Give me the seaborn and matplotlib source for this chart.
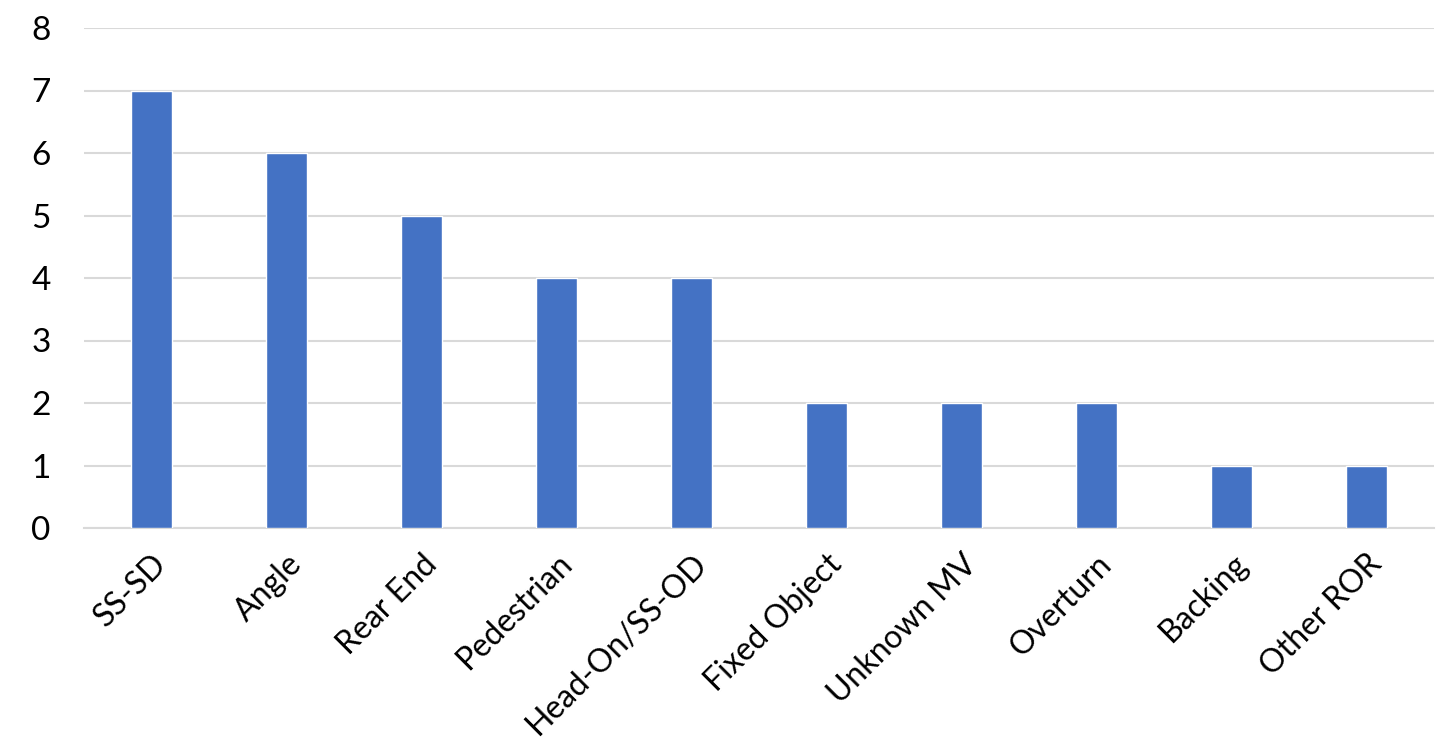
import matplotlib
matplotlib.use("Agg")
import matplotlib.pyplot as plt
import pandas as pd
import seaborn as sns

categories = ["SS-SD", "Angle", "Rear End", "Pedestrian", "Head-On/SS-OD",
              "Fixed Object", "Unknown MV", "Overturn", "Backing", "Other ROR"]
counts = [7, 6, 5, 4, 4, 2, 2, 2, 1, 1]
y_ticks = [0, 1, 2, 3, 4, 5, 6, 7, 8]

sns.set_style("white")
plt.rcParams["font.family"] = ["Lato", "DejaVu Sans"]

df = pd.DataFrame({"category": categories, "count": counts})

fig = plt.figure(figsize=(14.44, 7.49), dpi=100)
ax = fig.add_axes([84 / 1444, 1 - 528 / 749, 1350 / 1444, 500 / 749])
sns.barplot(data=df, x="category", y="count", color="#4472C4",
            width=0.31, saturation=1, ax=ax, zorder=3)

ax.set_ylim(0, 8)
ax.set_yticks(y_ticks)
ax.set_xlim(-0.5, len(categories) - 0.5)
ax.grid(axis="y", color="#D9D9D9", linewidth=1.5, zorder=0)
for s in ["top", "right", "left"]:
    ax.spines[s].set_visible(False)
ax.spines["bottom"].set_color("#D9D9D9")
ax.spines["bottom"].set_linewidth(1.5)
ax.set_xlabel("")
ax.set_ylabel("")
ax.tick_params(axis="y", length=0, labelsize=24, colors="black", pad=24)
ax.tick_params(axis="x", length=0, labelsize=23, colors="black", pad=15)
plt.setp(ax.get_xticklabels(), rotation=45, ha="right", rotation_mode="anchor")

fig.savefig("out.png", dpi=100)
